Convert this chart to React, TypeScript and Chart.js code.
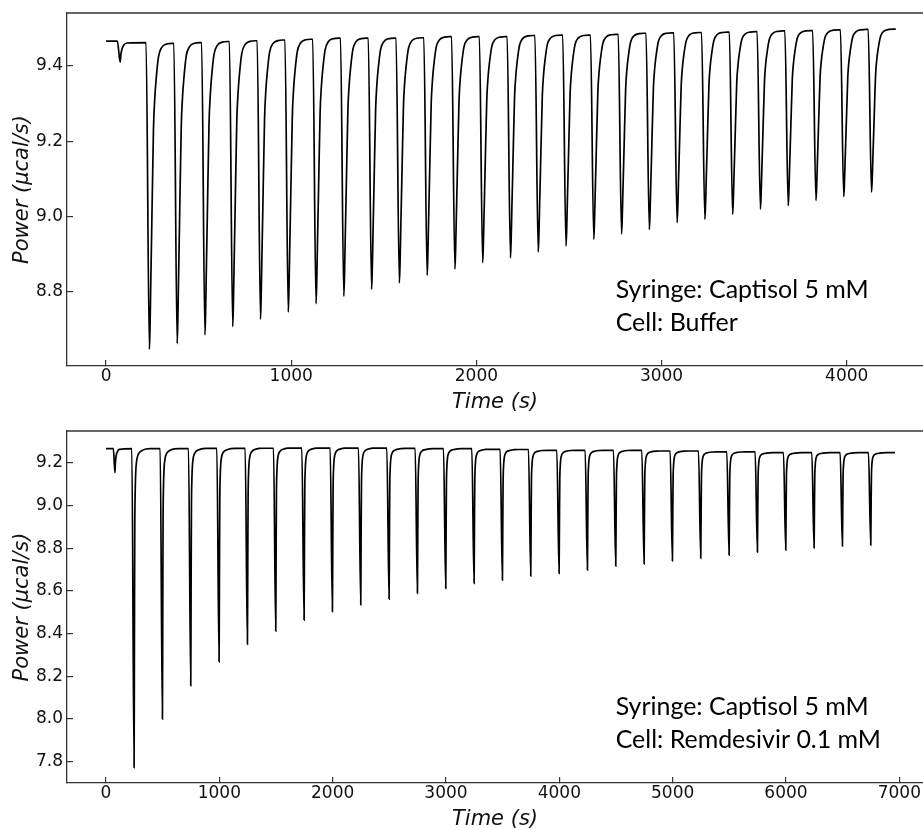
import React, { useEffect, useRef } from 'react';
import { Chart, registerables } from 'chart.js';
Chart.register(...registerables);

// ---------- Top panel (Syringe: Captisol 5 mM / Cell: Buffer) ----------
const TOP_PRE_T = [0, 61, 76, 80, 86, 95, 112];
const TOP_PRE_V = [9.466, 9.466, 9.41, 9.43, 9.445, 9.455, 9.461];
const TOP_INJ_T = [216, 366, 516, 666, 816, 966, 1116, 1266, 1416, 1566, 1716, 1866, 2016, 2166, 2316, 2466, 2616, 2766, 2916, 3066, 3216, 3366, 3516, 3666, 3816, 3966, 4116];
const TOP_BASE = [9.462, 9.460, 9.462, 9.465, 9.467, 9.469, 9.471, 9.474, 9.474, 9.474, 9.475, 9.478, 9.478, 9.478, 9.481, 9.482, 9.482, 9.484, 9.487, 9.488, 9.489, 9.490, 9.491, 9.493, 9.494, 9.496, 9.497];
const TOP_MIN = [8.648, 8.663, 8.686, 8.708, 8.728, 8.747, 8.769, 8.789, 8.807, 8.824, 8.844, 8.861, 8.878, 8.891, 8.906, 8.922, 8.940, 8.954, 8.966, 8.984, 8.993, 9.006, 9.020, 9.029, 9.043, 9.053, 9.065];
const TOP_END_T = 4265;
const TOP_END_V = 9.498;
// peak shape: seconds after injection / fraction of peak depth
const TOP_PROFILE_DT = [18, 22, 25, 31, 40, 47, 54, 67, 85, 112, 140];
const TOP_PROFILE_F = [1, 0.91, 0.8, 0.59, 0.28, 0.18, 0.12, 0.044, 0.013, 0.002, 0];
const TOP_X_TICKS = [0, 1000, 2000, 3000, 4000];
const TOP_Y_TICKS = [8.8, 9.0, 9.2, 9.4];
const TOP_X_RANGE = [-211, 4412];
const TOP_Y_RANGE = [8.6036, 9.5407];
const TOP_NOTE = ['Syringe: Captisol 5 mM', 'Cell: Buffer'];

// ---------- Bottom panel (Syringe: Captisol 5 mM / Cell: Remdesivir 0.1 mM) ----------
const BOT_PRE_T = [0, 65, 79, 83, 90, 100, 117];
const BOT_PRE_V = [9.267, 9.267, 9.155, 9.20, 9.235, 9.252, 9.264];
const BOT_INJ_T = [228, 478, 728, 978, 1228, 1478, 1728, 1978, 2228, 2478, 2728, 2978, 3228, 3478, 3728, 3978, 4228, 4478, 4728, 4978, 5228, 5478, 5728, 5978, 6228, 6478, 6728];
const BOT_BASE = [9.267, 9.267, 9.267, 9.268, 9.268, 9.269, 9.270, 9.270, 9.270, 9.270, 9.268, 9.267, 9.267, 9.264, 9.263, 9.259, 9.259, 9.259, 9.259, 9.256, 9.256, 9.252, 9.252, 9.248, 9.248, 9.248, 9.248];
const BOT_MIN = [7.772, 8.000, 8.156, 8.268, 8.350, 8.412, 8.464, 8.503, 8.535, 8.562, 8.589, 8.612, 8.636, 8.651, 8.670, 8.682, 8.698, 8.717, 8.727, 8.741, 8.753, 8.768, 8.782, 8.792, 8.802, 8.810, 8.815];
const BOT_END_T = 6962;
const BOT_END_V = 9.248;
const BOT_PROFILE_DT = [20, 23, 26, 30, 35, 42, 50, 65, 80, 125, 160];
const BOT_PROFILE_F = [1, 0.6, 0.25, 0.13, 0.07, 0.04, 0.025, 0.013, 0.008, 0.001, 0];
const BOT_X_TICKS = [0, 1000, 2000, 3000, 4000, 5000, 6000, 7000];
const BOT_Y_TICKS = [7.8, 8.0, 8.2, 8.4, 8.6, 8.8, 9.0, 9.2];
const BOT_X_RANGE = [-344, 7209];
const BOT_Y_RANGE = [7.7003, 9.3498];
const BOT_NOTE = ['Syringe: Captisol 5 mM', 'Cell: Remdesivir 0.1 mM'];

const X_TITLE = 'Time (s)';
const Y_TITLE = 'Power (\u03bccal/s)';

function buildSeries(preT: number[], preV: number[], injT: number[], base: number[], mins: number[],
  dt: number[], fr: number[], endT: number, endV: number) {
  const pts: { x: number; y: number }[] = preT.map((t, i) => ({ x: t, y: preV[i] }));
  injT.forEach((t0, k) => {
    const b0 = base[k];
    const b1 = k + 1 < base.length ? base[k + 1] : endV;
    pts.push({ x: t0, y: b0 });
    dt.forEach((d, j) => {
      pts.push({ x: t0 + d, y: b1 - (b1 - mins[k]) * fr[j] });
    });
  });
  pts.push({ x: endT, y: endV });
  return pts;
}

const AXIS_COLOR = '#333';
const TEXT_COLOR = '#111';

function makeDecor(note: string[]) {
  return {
    id: 'decor',
    afterDraw(chart: any) {
      const { ctx, chartArea: a } = chart;
      ctx.save();
      // top spine
      ctx.strokeStyle = AXIS_COLOR;
      ctx.lineWidth = 1.3;
      ctx.beginPath();
      ctx.moveTo(a.left, a.top);
      ctx.lineTo(a.right, a.top);
      ctx.stroke();
      // x title
      ctx.fillStyle = TEXT_COLOR;
      ctx.font = 'italic 21px "DejaVu Sans"';
      ctx.textAlign = 'center';
      ctx.textBaseline = 'alphabetic';
      ctx.fillText(X_TITLE, (a.left + a.right) / 2, a.bottom + 42);
      // y title
      ctx.save();
      ctx.translate(22.5, (a.top + a.bottom) / 2);
      ctx.rotate(-Math.PI / 2);
      ctx.textBaseline = 'middle';
      ctx.fillText(Y_TITLE, 0, 0);
      ctx.restore();
      // annotation
      ctx.font = '100px Lato';
      const w = ctx.measureText(note[0]).width;
      const fs = (100 * 253) / w;
      ctx.font = `${fs.toFixed(2)}px Lato`;
      ctx.textAlign = 'left';
      ctx.textBaseline = 'alphabetic';
      ctx.fillStyle = '#000';
      ctx.fillText(note[0], a.left + 548.7, a.bottom - 68);
      ctx.fillText(note[1], a.left + 548.7, a.bottom - 35);
      ctx.restore();
    },
  };
}

function makeConfig(data: { x: number; y: number }[], xr: number[], yr: number[], xt: number[], yt: number[],
  topPad: number, xAxisH: number, note: string[]) {
  const tickFont = { family: '"DejaVu Sans"', size: 17 };
  return {
    type: 'line',
    data: {
      datasets: [
        {
          data,
          borderColor: '#000',
          borderWidth: 1.7,
          pointRadius: 0,
          fill: false,
          cubicInterpolationMode: 'monotone',
        },
      ],
    },
    options: {
      animation: false,
      responsive: false,
      devicePixelRatio: 1,
      parsing: false,
      normalized: true,
      events: [],
      layout: { padding: { top: topPad, left: 0, right: 0, bottom: 0 } },
      plugins: { legend: { display: false }, tooltip: { enabled: false }, title: { display: false } },
      scales: {
        x: {
          type: 'linear',
          min: xr[0],
          max: xr[1],
          afterBuildTicks: (s: any) => {
            s.ticks = xt.map((v) => ({ value: v }));
          },
          afterFit: (s: any) => {
            s.height = xAxisH;
            s.paddingLeft = 0;
            s.paddingRight = 0;
            s.paddingTop = 0;
            s.paddingBottom = 0;
          },
          ticks: {
            font: tickFont,
            color: TEXT_COLOR,
            padding: 6,
            maxRotation: 0,
            autoSkip: false,
            callback: (v: number) => String(Math.round(v)),
          },
          grid: { drawOnChartArea: false, drawTicks: true, tickLength: -6, color: AXIS_COLOR, lineWidth: 1.2 },
          border: { display: true, color: AXIS_COLOR, width: 1.3 },
        },
        y: {
          type: 'linear',
          min: yr[0],
          max: yr[1],
          afterBuildTicks: (s: any) => {
            s.ticks = yt.map((v) => ({ value: v }));
          },
          afterFit: (s: any) => {
            s.width = 67;
            s.paddingLeft = 0;
            s.paddingRight = 0;
            s.paddingTop = 0;
            s.paddingBottom = 0;
          },
          ticks: {
            font: tickFont,
            color: TEXT_COLOR,
            padding: 10,
            autoSkip: false,
            callback: (v: number) => Number(v).toFixed(1),
          },
          grid: { drawOnChartArea: false, drawTicks: true, tickLength: -6, color: AXIS_COLOR, lineWidth: 1.2 },
          border: { display: true, color: AXIS_COLOR, width: 1.3 },
        },
      },
    },
    plugins: [makeDecor(note)],
  } as any;
}

export default function App() {
  const topRef = useRef<HTMLCanvasElement | null>(null);
  const botRef = useRef<HTMLCanvasElement | null>(null);

  useEffect(() => {
    const topData = buildSeries(TOP_PRE_T, TOP_PRE_V, TOP_INJ_T, TOP_BASE, TOP_MIN,
      TOP_PROFILE_DT, TOP_PROFILE_F, TOP_END_T, TOP_END_V);
    const botData = buildSeries(BOT_PRE_T, BOT_PRE_V, BOT_INJ_T, BOT_BASE, BOT_MIN,
      BOT_PROFILE_DT, BOT_PROFILE_F, BOT_END_T, BOT_END_V);
    const c1 = new Chart(topRef.current as HTMLCanvasElement,
      makeConfig(topData, TOP_X_RANGE, TOP_Y_RANGE, TOP_X_TICKS, TOP_Y_TICKS, 13, 54, TOP_NOTE));
    const c2 = new Chart(botRef.current as HTMLCanvasElement,
      makeConfig(botData, BOT_X_RANGE, BOT_Y_RANGE, BOT_X_TICKS, BOT_Y_TICKS, 11, 45, BOT_NOTE));
    return () => {
      c1.destroy();
      c2.destroy();
    };
  }, []);

  return (
    <div style={{ position: 'absolute', left: 0, top: 0, width: 923, height: 828, background: '#fff' }}>
      <canvas ref={topRef} width={923} height={420} style={{ position: 'absolute', left: 0, top: 0, width: 923, height: 420 }} />
      <canvas ref={botRef} width={923} height={408} style={{ position: 'absolute', left: 0, top: 420, width: 923, height: 408 }} />
    </div>
  );
}
